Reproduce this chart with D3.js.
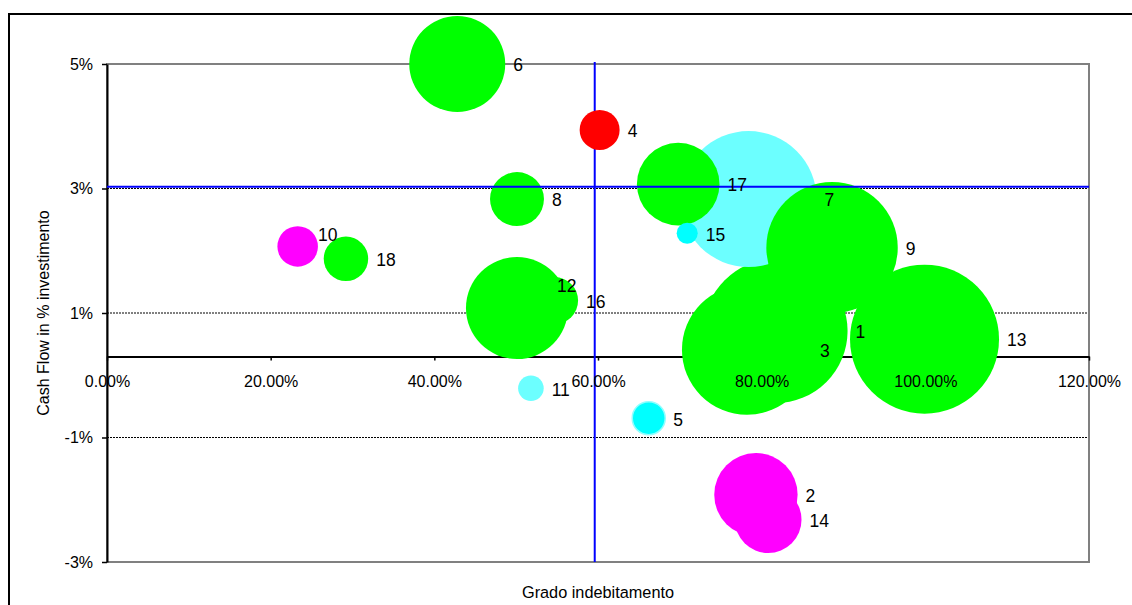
<!DOCTYPE html>
<html>
<head>
<meta charset="utf-8">
<script src="https://cdn.jsdelivr.net/npm/d3@7"></script>
<style>
  body { margin: 0; background: #fff; }
  svg text { font-family: "Liberation Sans", Arial, sans-serif; fill: #000; }
</style>
</head>
<body>
<div id="chart"></div>
<script>
// bubble data
const ids    = [1, 2, 3, 4, 5, 6, 7, 8, 9, 10, 11, 12, 13, 14, 15, 16, 17, 18];
const grado  = [0.817, 0.793, 0.782, 0.602, 0.662, 0.428, 0.784, 0.501, 0.886, 0.233, 0.518, 0.501, 0.999, 0.808, 0.709, 0.547, 0.698, 0.292];
const cash   = [0.0071, -0.0192, 0.0041, 0.0394, -0.0069, 0.0500, 0.0283, 0.0283, 0.0205, 0.0207, -0.0021, 0.0108, 0.0058, -0.0232, 0.0228, 0.0120, 0.0307, 0.0187];
const sizes  = [93.4, 31.3, 76.1, 7.2, 4.9, 41.5, 83.3, 13.1, 77.8, 7.4, 2.95, 46.9, 100, 20.0, 2.0, 9.9, 30.7, 8.9];
const gruppo = ["verde", "magenta", "verde", "rosso", "ciano", "verde", "azzurro", "verde", "verde", "magenta",
                "azzurro", "verde", "verde", "magenta", "ciano", "verde", "verde", "verde"];

const xTicks = [0, 0.2, 0.4, 0.6, 0.8, 1.0, 1.2];
const yTicks = [-0.03, -0.01, 0.01, 0.03, 0.05];
const mediaGrado = 0.596;   // blue vertical line
const mediaCash = 0.0303;   // blue horizontal line
const xAxisAt = 0.003;      // where the horizontal axis crosses

const colors = {verde: "#00ff00", magenta: "#ff00ff", rosso: "#ff0000", ciano: "#00ffff", azzurro: "#6cffff"};

const width = 1132, height = 605;
const margin = {top: 64, right: 43, bottom: 43, left: 107};

const svg = d3.select("#chart").append("svg").attr("width", width).attr("height", height);

const xscale = d3.scaleLinear().domain([0, 1.2]).range([margin.left, width - margin.right]);
const yscale = d3.scaleLinear().domain([-0.03, 0.05]).range([height - margin.bottom, margin.top]);
const rscale = d3.scaleSqrt().domain([0, 100]).range([0, 74.5]);

const pct = f => d => d3.format(f)(d).replace("\u2212", "-");

const points = ids.map((id, i) => ({id, x: grado[i], y: cash[i], size: sizes[i], g: gruppo[i]}));

// outer chart frame
svg.append("rect")
  .attr("x", 9).attr("y", 14)
  .attr("width", 1200).attr("height", 700)
  .attr("fill", "#fff").attr("stroke", "#000").attr("stroke-width", 2);

// dotted gridlines
svg.append("g")
  .selectAll("line")
  .data(yTicks.slice(1, -1))
  .join("line")
  .attr("x1", xscale(0)).attr("x2", xscale(1.2))
  .attr("y1", d => yscale(d)).attr("y2", d => yscale(d))
  .attr("stroke", "#000").attr("stroke-width", 1).attr("stroke-dasharray", "2,1");

// plot border
svg.append("rect")
  .attr("x", xscale(0)).attr("y", yscale(0.05))
  .attr("width", xscale(1.2) - xscale(0)).attr("height", yscale(-0.03) - yscale(0.05))
  .attr("fill", "none").attr("stroke", "#808080").attr("stroke-width", 2);

// x axis line + ticks (behind bubbles)
const xAxis = d3.axisBottom(xscale).tickValues(xTicks).tickFormat(pct(".2%"))
  .tickSizeInner(4).tickSizeOuter(0).tickPadding(15);

svg.append("g")
  .attr("transform", `translate(0,${yscale(xAxisAt)})`)
  .call(xAxis)
  .call(g => g.selectAll("text").remove())
  .call(g => g.select(".domain").attr("stroke-width", 2))
  .call(g => g.selectAll(".tick line").attr("stroke-width", 1.5));

// y axis
svg.append("g")
  .attr("transform", `translate(${xscale(0)},0)`)
  .call(d3.axisLeft(yscale).tickValues(yTicks).tickFormat(pct(".0%"))
    .tickSizeInner(5).tickSizeOuter(0).tickPadding(9))
  .call(g => g.select(".domain").attr("stroke-width", 2))
  .call(g => g.selectAll(".tick line").attr("stroke-width", 1.5))
  .call(g => g.selectAll("text").style("font-size", "16px"));

// vertical reference line
svg.append("line")
  .attr("x1", xscale(mediaGrado)).attr("x2", xscale(mediaGrado))
  .attr("y1", yscale(0.05) - 2).attr("y2", yscale(-0.03))
  .attr("stroke", "#0000ff").attr("stroke-width", 2);

// bubbles, larger ones at the back
const sorted = points.slice().sort((a, b) => b.size - a.size);
svg.append("g")
  .selectAll("circle")
  .data(sorted)
  .join("circle")
  .attr("cx", d => xscale(d.x))
  .attr("cy", d => yscale(d.y))
  .attr("r", d => rscale(d.size))
  .attr("fill", d => colors[d.g])
  .attr("stroke", d => d.g === "ciano" && d.size > 4 ? "#8fffff" : "none")
  .attr("stroke-width", 1.5);

// horizontal reference line
svg.append("line")
  .attr("x1", xscale(0)).attr("x2", xscale(1.2))
  .attr("y1", yscale(mediaCash)).attr("y2", yscale(mediaCash))
  .attr("stroke", "#0000ff").attr("stroke-width", 2);

// x tick labels above the bubbles
svg.append("g")
  .attr("transform", `translate(0,${yscale(xAxisAt)})`)
  .call(xAxis)
  .call(g => g.select(".domain").remove())
  .call(g => g.selectAll(".tick line").remove())
  .call(g => g.selectAll("text").style("font-size", "16px"));

// bubble labels to the right of each bubble
const labelShift = {10: [-8, -13], 12: [-19, -23]};
svg.append("g")
  .selectAll("text")
  .data(points)
  .join("text")
  .attr("x", d => xscale(d.x) + rscale(d.size) + 8 + (labelShift[d.id] ? labelShift[d.id][0] : 0))
  .attr("y", d => yscale(d.y) + 1 + (labelShift[d.id] ? labelShift[d.id][1] : 0))
  .attr("dy", "0.36em")
  .style("font-size", "17.5px")
  .text(d => d.id);

// axis titles
svg.append("text")
  .attr("x", (xscale(0) + xscale(1.2)) / 2)
  .attr("y", 598)
  .attr("text-anchor", "middle")
  .style("font-size", "16.3px")
  .text("Grado indebitamento");

svg.append("text")
  .attr("transform", `translate(49,${(yscale(0.05) + yscale(-0.03)) / 2}) rotate(-90)`)
  .attr("text-anchor", "middle")
  .style("font-size", "16px")
  .text("Cash Flow in % investimento");
</script>
</body>
</html>
